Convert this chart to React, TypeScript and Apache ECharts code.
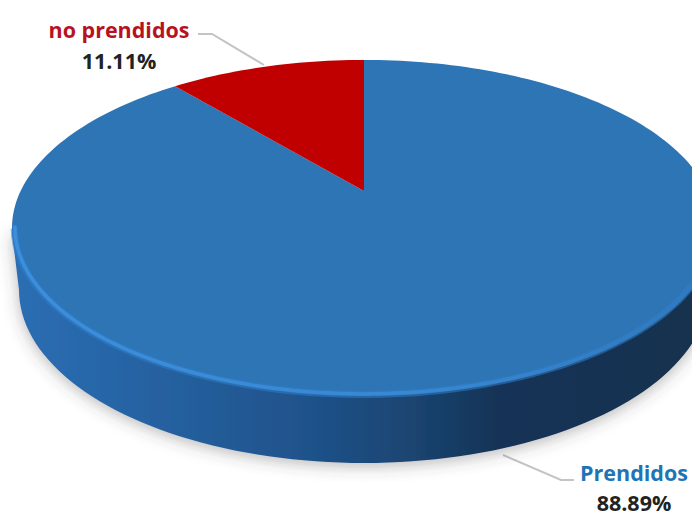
import React, { useEffect, useRef } from "react";
import * as echarts from "echarts";

const categories = ["Prendidos", "no prendidos"];
const values = [88.89, 11.11];
const sliceColors = ["#2e75b6", "#c00000"];
const labelColors = ["#1f74b4", "#b8121f"];

// Perspective projection of the pie disc onto the page.
const CX = 364;
const APEX_Y = 191;
const DISC_R = 343.4;
const DISC_S = 159.9;
const TILT = 0.22;
const total = values.reduce((a, b) => a + b, 0);

// Clockwise angle from twelve o'clock (degrees) to a page position on the rim.
function rim(deg: number, r = 1): number[] {
  const a = (deg * Math.PI) / 180;
  const u = Math.sin(a) * r;
  const v = Math.cos(a) * r;
  const w = 1 + TILT * v;
  return [CX + (DISC_R * u) / w, APEX_Y - (DISC_S * v) / w];
}

function arcPoints(from: number, to: number, r = 1): number[][] {
  const n = Math.max(2, Math.ceil(Math.abs(to - from) / 1.5));
  const pts: number[][] = [];
  for (let i = 0; i <= n; i++) pts.push(rim(from + ((to - from) * i) / n, r));
  return pts;
}

// Underside outline of the pie, which sits lower and reads slightly narrower.
function wallOutline(): number[][] {
  const pts: number[][] = [[12, 232]];
  for (let t = 180; t >= 0; t -= 2) {
    const a = (t * Math.PI) / 180;
    pts.push([CX + 345 * Math.cos(a), 290 + 173 * Math.sin(a)]);
  }
  pts.push([716, 232]);
  return pts;
}

function renderWall() {
  return {
    type: "polygon",
    shape: { points: wallOutline() },
    style: {
      fill: new echarts.graphic.LinearGradient(
        0, 0, 692, 0,
        [
          { offset: 0, color: "#2b6fb5" },
          { offset: 0.2, color: "#2663a3" },
          { offset: 0.45, color: "#1f528a" },
          { offset: 0.6, color: "#1a4470" },
          { offset: 0.72, color: "#143356" },
          { offset: 1, color: "#14304f" },
        ],
        true
      ),
      shadowBlur: 16,
      shadowColor: "rgba(60,60,60,0.38)",
      shadowOffsetY: 3,
    },
  };
}

function renderSlice(params: any, api: any) {
  const i = params.dataIndex;
  const before = values.slice(0, i).reduce((a, b) => a + b, 0);
  const start = (before / total) * 360;
  const end = start + (api.value(0) / total) * 360;
  return {
    type: "polygon",
    shape: { points: [rim(0, 0), ...arcPoints(start, end)] },
    style: { fill: sliceColors[i] },
  };
}

// Soft bevel along the front edge of the disc, brightest on the left.
function renderBevel() {
  const stroke = (stops: any[]) => new echarts.graphic.LinearGradient(0, 0, 692, 0, stops, true);
  return {
    type: "group",
    children: [
      {
        type: "polyline",
        shape: { points: arcPoints(257, 100, 0.994) },
        style: {
          fill: "none",
          lineWidth: 7,
          lineCap: "butt",
          opacity: 0.55,
          stroke: stroke([
            { offset: 0, color: "#2f7dc8" },
            { offset: 1, color: "#2f7dc8" },
          ]),
        },
      },
      {
        type: "polyline",
        shape: { points: arcPoints(258, 96, 0.992) },
        style: {
          fill: "none",
          lineWidth: 3.5,
          lineCap: "butt",
          opacity: 0.8,
          stroke: stroke([
            { offset: 0, color: "#3f94e4" },
            { offset: 0.6, color: "#3a8cd8" },
            { offset: 1, color: "#2f7ac0" },
          ]),
        },
      },
    ],
  };
}

const LABEL_FONT = "'Open Sans', Lato, sans-serif";
const pct = (v: number) => `${v.toFixed(2)}%`;

function calloutText(x: number, y: number, text: string, fill: string) {
  return {
    type: "text",
    x,
    y,
    silent: true,
    style: {
      text,
      fill,
      font: `700 21.5px ${LABEL_FONT}`,
      textAlign: "center",
      textVerticalAlign: "middle",
    },
  };
}

function leader(points: number[][]) {
  return {
    type: "polyline",
    silent: true,
    shape: { points },
    style: { fill: "none", stroke: "#c4c4c4", lineWidth: 2 },
  };
}

export default function App() {
  const ref = useRef<HTMLDivElement>(null);

  useEffect(() => {
    document.body.style.margin = "0";
    const chart = echarts.init(ref.current!, null, { renderer: "svg" });
    chart.setOption({
      animation: false,
      backgroundColor: "#ffffff",
      series: [
        {
          type: "custom",
          coordinateSystem: "none",
          silent: true,
          data: [0],
          renderItem: renderWall,
          z: 1,
        },
        {
          type: "custom",
          coordinateSystem: "none",
          silent: true,
          data: values.map((value, i) => ({ name: categories[i], value })),
          renderItem: renderSlice,
          z: 2,
        },
        {
          type: "custom",
          coordinateSystem: "none",
          silent: true,
          data: [0],
          renderItem: renderBevel,
          z: 3,
        },
      ],
      graphic: [
        leader([[198, 34], [212, 34], [264, 65]]),
        leader([[503, 455], [561, 480], [574, 480]]),
        calloutText(119, 29, categories[1], labelColors[1]),
        calloutText(119, 60, pct(values[1]), "#222222"),
        calloutText(634, 472, categories[0], labelColors[0]),
        calloutText(634, 502, pct(values[0]), "#222222"),
      ],
    });
    return () => chart.dispose();
  }, []);

  return <div ref={ref} style={{ width: 692, height: 515 }} />;
}
